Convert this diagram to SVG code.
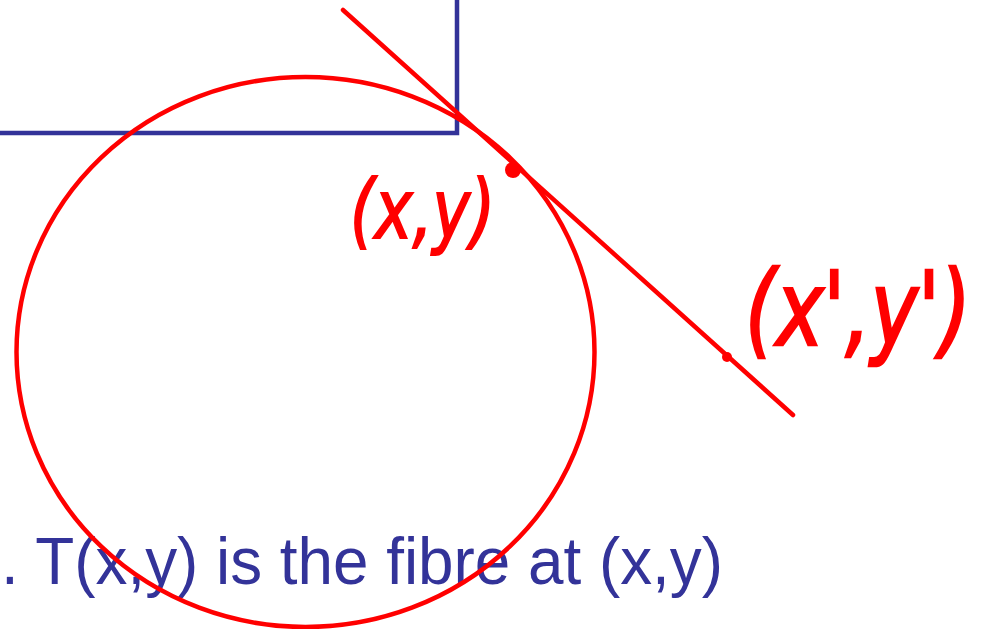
<svg xmlns="http://www.w3.org/2000/svg" width="984" height="629" viewBox="0 0 984 629">
<style>
.blue{fill:none;stroke:#333399;stroke-width:4.5}
.red{fill:none;stroke:#ff0000;stroke-width:4.5;stroke-linecap:round}
.cap{font-family:"Liberation Sans",Arial,sans-serif;fill:#333399}
.hand{font-family:"DejaVu Sans","Liberation Sans",sans-serif;fill:#ff0000;stroke:#ff0000;stroke-width:2;font-style:oblique}
</style>
<rect width="984" height="629" fill="#ffffff"/>
<g id="rect">
<path class="blue" d="M0 133 H457 V0"/>
</g>
<g id="caption">
<text class="cap" x="1" y="584" font-size="66" textLength="722" lengthAdjust="spacingAndGlyphs">. T(x,y) is the fibre at (x,y)</text>
</g>
<g id="circle">
<ellipse class="red" cx="305.5" cy="352" rx="289" ry="275"/>
</g>
<g id="connectors">
<line class="red" x1="343" y1="10" x2="793" y2="415"/>
</g>
<g id="p1">
<circle cx="513" cy="170" r="8" fill="#ff0000"/>
<text class="hand" x="350" y="238" font-size="82" textLength="145" lengthAdjust="spacingAndGlyphs">(x,y)</text>
</g>
<g id="p2">
<circle cx="727" cy="357" r="5" fill="#ff0000"/>
<text class="hand" transform="translate(745 345) scale(1 1.3)" x="0" y="0" font-size="80" textLength="226" lengthAdjust="spacingAndGlyphs">(x',y')</text>
</g>
</svg>
